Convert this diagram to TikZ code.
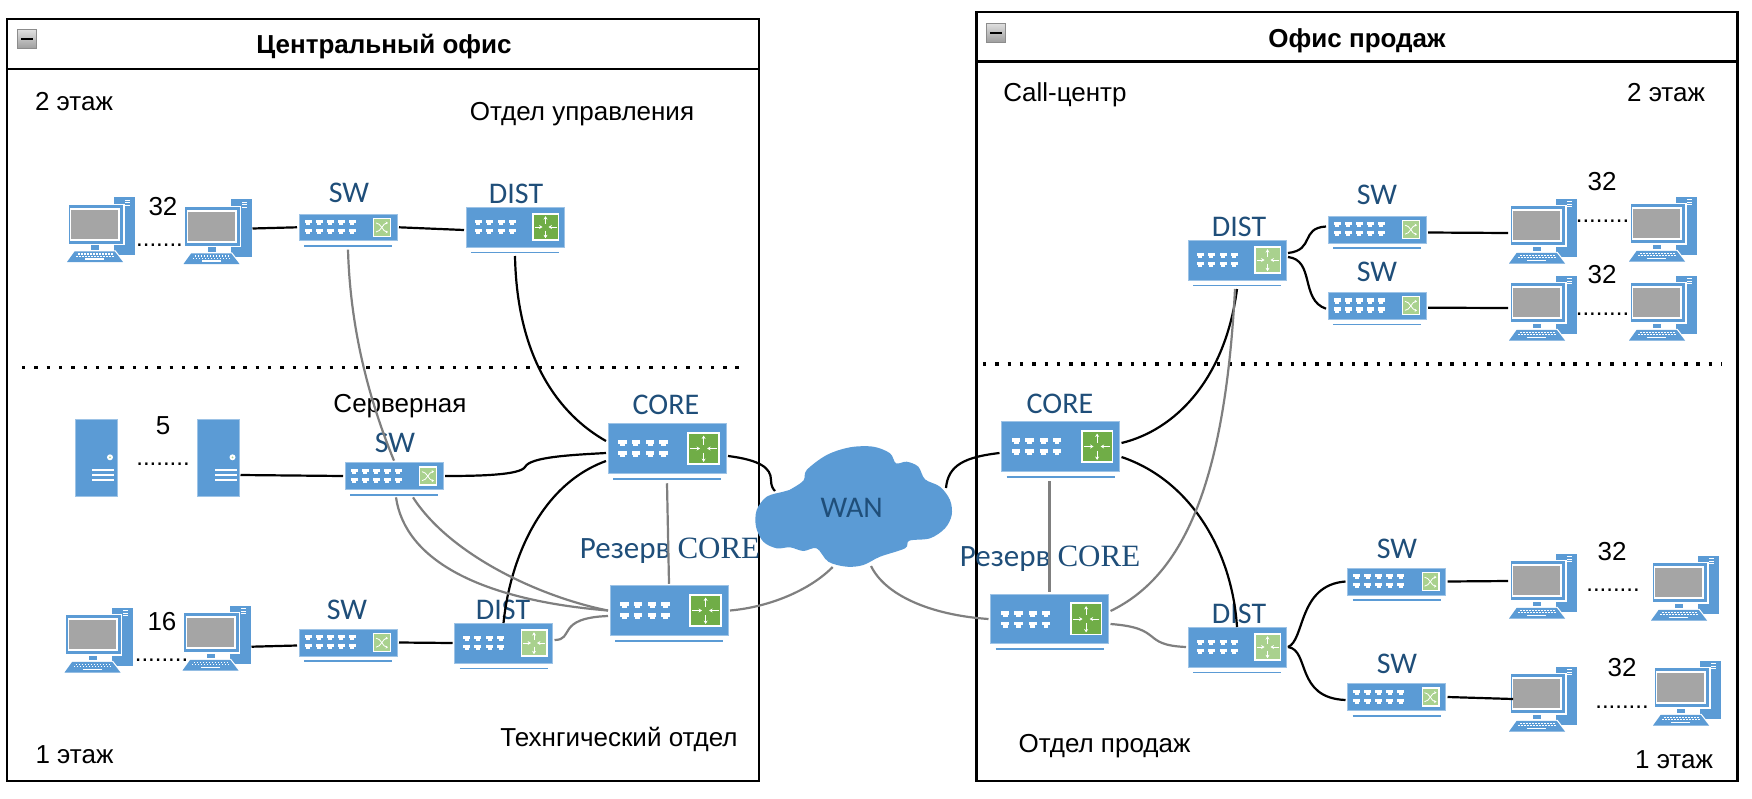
\documentclass[tikz,border=0pt]{standalone}
\usepackage{fontspec}
\setmainfont{Liberation Sans}
\newfontfamily\devfont{Carlito}
\newfontfamily\devserif{Liberation Serif}
\usetikzlibrary{arrows.meta,positioning,calc}
\definecolor{devblue}{RGB}{91,155,213}
\definecolor{devedge}{RGB}{157,195,230}
\definecolor{litegreen}{RGB}{169,209,142}
\definecolor{darkgreen}{RGB}{112,173,71}
\definecolor{textblue}{RGB}{31,78,121}
\definecolor{wiregray}{RGB}{127,127,127}
\definecolor{screengray}{RGB}{165,165,165}
\newcommand{\ethports}[3]{%
    \foreach \px in {#1}{%
        \foreach \py in {#2,#3}{%
            \fill[white] (\px-3.5,\py-2.6) rectangle (\px+3.5,\py+.6);
            \fill[white] (\px-2,\py+.6) rectangle (\px+2,\py+2.6);
        }
    }%
}
\tikzset{
    pics/swicon/.style={code={
        \begin{scope}[shift={(-49,-13.35)}]
            \ethports{9,20,31,42,53}{8.7}{17.7}
            \fill[white] (74,3.8) rectangle (92,23);
            \fill[litegreen] (75.3,5.1) rectangle (90.7,21.7);
            \draw[white,line width=.8pt,-{Stealth[length=2.4pt,width=3pt]}] (77,9) .. controls (82,9) and (84,18) .. (89,18);
            \draw[white,line width=.8pt,-{Stealth[length=2.4pt,width=3pt]}] (77,18) .. controls (82,18) and (84,9) .. (89,9);
        \end{scope}
    }},
    pics/routericon/.style={code={
        \begin{scope}[shift={(-49,-20.3)}]
            \ethports{12,23,35,46}{16}{25}
            \fill[white] (66,6.5) rectangle (93,34);
            \fill[#1] (67.5,8) rectangle (91.5,32.5);
            \begin{scope}[white,line width=.9pt,-{Stealth[length=3.4pt,width=4pt]}]
                \draw (79.5,17) -- (79.5,9.5);
                \draw (79.5,24) -- (79.5,31.5);
                \draw (68.5,20.3) -- (76.5,20.3);
                \draw (90.5,20.3) -- (82.5,20.3);
            \end{scope}
        \end{scope}
    }},
    pics/pcicon/.style={code={
        \begin{scope}[shift={(-34,-32.5)}]
            \fill[devblue] (47,0) rectangle (68,58);
            \fill[white] (58,2.8) rectangle (63,3.9);
            \fill[white] (58,5.3) rectangle (63,6.4);
            \fill[white] (58,7.8) rectangle (63,8.9);
            \fill[white] (0.6,6.7) rectangle (57.5,48);
            \fill[devblue] (1.7,7.7) rectangle (56,46.7);
            \fill[white] (3,10.5) rectangle (53,43.5);
            \fill[screengray] (4.3,12.7) rectangle (51,41.7);
            \fill[devblue] (24.3,48) rectangle (32,52.7);
            \fill[white] (7,53.4) -- (48.5,53.4) -- (57.5,65) -- (-1,65) -- cycle;
            \fill[devblue] (7.7,54.3) -- (47.7,54.3) -- (56,65) -- (0,65) -- cycle;
            \foreach \kx in {11,14,...,44}{\fill[white] (\kx,56.3) rectangle (\kx+1.8,57.5);}
            \foreach \kx in {9,12,...,46}{\fill[white] (\kx,58.6) rectangle (\kx+1.8,59.8);}
            \fill[white] (18,61.4) rectangle (37,62.8);
        \end{scope}
    }},
    pics/srvicon/.style={code={
        \begin{scope}[shift={(-21,-38.5)}]
            \fill[white] (35,38.3) circle (3);
            \fill[litegreen] (35,38.3) circle (1);
            \foreach \ly in {50.7,56,61}{\fill[white] (17,\ly-.8) rectangle (39,\ly+.8);}
        \end{scope}
    }},
    devbody/.style={rectangle, fill=devblue, draw=devedge, line width=.7pt,
                    inner sep=0pt, outer sep=2pt,
                    append after command={
                        ([xshift=7pt,yshift=-3.5pt]\tikzlastnode.south west) edge[underbar]
                        ([xshift=-7pt,yshift=-3.5pt]\tikzlastnode.south east)}},
    underbar/.style={draw=devblue, line width=1.8pt},
    swbox/.style={devbody, minimum width=98pt, minimum height=26.7pt},
    distbox/.style={devbody, minimum width=98pt, minimum height=40pt},
    corebox/.style={devbody, minimum width=118pt, minimum height=49.5pt},
    pcbox/.style={rectangle, inner sep=0pt, outer sep=1pt,
                  minimum width=68pt, minimum height=65pt},
    srvbox/.style={rectangle, fill=devblue, draw=devedge, line width=.5pt,
                   inner sep=0pt, outer sep=1pt,
                   minimum width=42pt, minimum height=77pt},
    officebox/.style={rectangle, draw=black, line width=2.1pt, inner sep=0pt},
    foldbox/.style={rectangle, draw=black!45, line width=.8pt, inner sep=0pt,
                    minimum size=19pt, top color=black!12, bottom color=black!38,
                    path picture={\fill[black] (-6,-1) rectangle (6,1);}},
    devlabel/.style={inner sep=0pt, text=textblue,
                     font=\devfont\fontsize{30}{32}\selectfont},
    reslabel/.style={devlabel, font=\devfont\fontsize{31}{33}\selectfont},
    txtlabel/.style={inner sep=0pt, text=black,
                     font=\fontsize{26}{29}\selectfont},
    titlelabel/.style={inner sep=0pt, text=black,
                       font=\bfseries\fontsize{26}{29}\selectfont},
    dotrow/.style={inner sep=0pt, anchor=base, text=black,
                   font=\fontsize{24}{26}\selectfont},
    floorline/.style={line width=3.4pt, dash pattern=on 3.4pt off 8.9pt},
    wire/.style={line width=2.2pt, black},
    sparewire/.style={line width=2.2pt, wiregray},
}
\begin{document}
\begin{tikzpicture}[x=1pt, y=-1pt]
    \useasboundingbox (0,0) rectangle (1752,798);
    \node[officebox, minimum width=752pt, minimum height=762pt] (officeA) at (383,400) {};
    \node[officebox, minimum width=761pt, minimum height=769pt] (officeB) at (1357,396.5) {};
    \draw[line width=2.1pt] (officeA.west |- 0,69) -- (officeA.east |- 0,69);
    \draw[line width=2.1pt] (officeB.west |- 0,61.5) -- (officeB.east |- 0,61.5);
    \node[foldbox] (foldA) at (27,39) {};
    \node[foldbox] (foldB) at (996,32.5) {};
    \node[titlelabel] (titleA) at (384,47) {Центральный офис};
    \node[titlelabel] (titleB) at (1357,40.5) {Офис продаж};
    \draw[floorline] (22,367.6) -- (743,367.6);
    \draw[floorline] (983,364) -- (1722,364);

    \node[txtlabel] (floorA2) at (74,102) {2 этаж};
    \node[txtlabel] (floorA1) at (74.5,755) {1 этаж};
    \node[txtlabel] (floorB2) at (1666,93) {2 этаж};
    \node[txtlabel] (floorB1) at (1674,760) {1 этаж};
    \node[txtlabel] (deptMgmt) at (582,114) {Отдел управления};
    \node[txtlabel] (deptServ) at (400,406) {Серверная};
    \node[txtlabel] (deptTech) at (619,739) {Технгический отдел};
    \node[txtlabel] (deptCall) at (1065,95) {Call-центр};
    \node[txtlabel] (deptSales) at (1104.5,746) {Отдел продаж};

    \node[pcbox] (pcA1) at (101,229.5) {};
    \node[pcbox] (pcA2) at (217.5,231.5) {};
    \node[pcbox] (pcB1) at (98.5,640) {};
    \node[pcbox] (pcB2) at (216.5,638) {};
    \node[pcbox] (pcD1) at (1543,231) {};
    \node[pcbox] (pcD2) at (1663,229) {};
    \node[pcbox] (pcE1) at (1543,308) {};
    \node[pcbox] (pcE2) at (1663,308) {};
    \node[pcbox] (pcF1) at (1543,586) {};
    \node[pcbox] (pcF2) at (1685,588) {};
    \node[pcbox] (pcG1) at (1543,699) {};
    \node[pcbox] (pcG2) at (1687,693) {};
    \node[srvbox] (srvA) at (96,457.5) {};
    \node[srvbox] (srvB) at (218.5,457.5) {};
    \foreach \pcname in {pcA1,pcA2,pcB1,pcB2,pcD1,pcD2,pcE1,pcE2,pcF1,pcF2,pcG1,pcG2}
        \pic at (\pcname) {pcicon};
    \foreach \srvname in {srvA,srvB}
        \pic at (\srvname) {srvicon};

    \node[txtlabel] (countA) at (163,207) {32};
    \node[txtlabel] (countS) at (163,426) {5};
    \node[txtlabel] (countB) at (162,622) {16};
    \node[txtlabel] (countD) at (1602,182) {32};
    \node[txtlabel] (countE) at (1602,275) {32};
    \node[txtlabel] (countF) at (1612,552) {32};
    \node[txtlabel] (countG) at (1622,668) {32};
    \node[dotrow] (dotsA) at (159.5,246) {.......};
    \node[dotrow] (dotsS) at (163,465.5) {........};
    \node[dotrow] (dotsB) at (161.5,661) {........};
    \node[dotrow] (dotsD) at (1602.5,222) {........};
    \node[dotrow] (dotsE) at (1602.5,315.5) {........};
    \node[dotrow] (dotsF) at (1613,591.5) {........};
    \node[dotrow] (dotsG) at (1622,708) {........};

    \node[swbox] (swA) at (348,227.3) {};
    \node[distbox] (distA) at (515,227) {};
    \node[swbox] (swB) at (394,476) {};
    \node[corebox] (coreA) at (667,448.5) {};
    \node[corebox] (resA) at (669,610.5) {};
    \node[swbox] (swC) at (348,642.5) {};
    \node[distbox] (distB) at (503.5,643) {};
    \node[corebox] (coreB) at (1060.5,446.5) {};
    \node[corebox] (resB) at (1049.5,619) {};
    \node[distbox] (distC) at (1237,260) {};
    \node[distbox] (distD) at (1237,647) {};
    \node[swbox] (swD) at (1377,229.5) {};
    \node[swbox] (swE) at (1377,305.7) {};
    \node[swbox] (swF) at (1396.5,581.5) {};
    \node[swbox] (swG) at (1396.5,697) {};
    \foreach \swname in {swA,swB,swC,swD,swE,swF,swG}
        \pic at (\swname) {swicon};
    \foreach \distname/\distgreen in {distA/darkgreen,distB/litegreen,distC/litegreen,distD/litegreen}
        \pic at (\distname) {routericon=\distgreen};
    \foreach \corename in {coreA,resA,coreB,resB}
        \pic[scale=1.2] at (\corename) {routericon=darkgreen};

    \node[devlabel] (swAlabel) at (349,193) {SW};
    \node[devlabel] (distAlabel) at (516,194) {DIST};
    \node[devlabel] (swBlabel) at (395,443) {SW};
    \node[devlabel] (coreAlabel) at (666,405) {CORE};
    \node[reslabel] (resAlabel) at (670,551) {Резерв {\devserif CORE}};
    \node[devlabel] (swClabel) at (347,610) {SW};
    \node[devlabel] (distBlabel) at (503,610) {DIST};
    \node[devlabel] (coreBlabel) at (1060,404) {CORE};
    \node[reslabel] (resBlabel) at (1050,559) {Резерв {\devserif CORE}};
    \node[devlabel] (distClabel) at (1239,227) {DIST};
    \node[devlabel] (distDlabel) at (1239,614) {DIST};
    \node[devlabel] (swDlabel) at (1377,195) {SW};
    \node[devlabel] (swElabel) at (1377,272) {SW};
    \node[devlabel] (swFlabel) at (1397,549) {SW};
    \node[devlabel] (swGlabel) at (1397,664) {SW};

    \fill[devblue] plot[smooth cycle, tension=.55] coordinates {
        (783.3,491.7) (789.3,490) (803.3,480.7) (806.7,470) (826.7,455) (850,447.3)
        (873.3,446.7) (890,453.3) (896,463.3) (906.7,461.7) (918.3,466.7) (925,479.3)
        (940,486.7) (950,500) (951.7,515) (945,528.3) (930,538.3) (909.3,540.7)
        (905,548.3) (880,556.7) (863.3,565) (846.7,566.7) (828.3,561.7) (816.7,548.3)
        (803.3,551) (790,547.3) (776.7,548.3) (763.3,541.7) (756,526.7) (756.7,510)
        (766.7,496.7)};
    \node[devlabel] (wan) at (851.7,508) {WAN};
    \coordinate (wanNW) at (775,491);
    \coordinate (wanNE) at (946,488);
    \coordinate (wanSW) at (832.7,567);
    \coordinate (wanSE) at (871,566);

    \draw[wire] ([yshift=3pt]pcA2.east) -- (swA.west);
    \draw[wire] (swA.east) -- ([yshift=-3pt]distA.west);
    \draw[wire] ([yshift=-7pt]distA.south) .. controls (517,360) and (560,415) .. ([yshift=7.5pt]coreA.west);
    \draw[wire] ([yshift=-17.5pt]srvB.east) -- (swB.west);
    \draw[wire] (swB.east) .. controls (480,476) and (520,475) .. (525,467)
        .. controls (530,457) and (570,455) .. ([yshift=-4.5pt]coreA.west);
    \draw[wire] ([yshift=-12.5pt]coreA.west) .. controls (540,485) and (510,560) .. ([yshift=-2pt]distB.north);
    \draw[wire] ([yshift=-7.5pt]coreA.east) .. controls (760,460) and (771,468) .. (771,480)
        .. controls (771,486) and (773,489) .. (wanNW);
    \draw[wire] (wanNE) .. controls (948,465) and (965,457) .. ([yshift=-6.5pt]coreB.west);
    \draw[wire] ([yshift=3.5pt]coreB.east) .. controls (1175,430) and (1225,380) .. ([yshift=-7pt]distC.south);
    \draw[wire] ([yshift=-10.5pt]coreB.east) .. controls (1190,480) and (1232,550) .. ([yshift=-2pt]distD.north);
    \draw[wire] ([yshift=7pt]distC.east) .. controls (1315,250) and (1300,228) .. ([yshift=3pt]swD.west);
    \draw[wire] ([yshift=3pt]distC.east) .. controls (1315,260) and (1300,300) .. ([yshift=-3pt]swE.west);
    \draw[wire] ([yshift=-3pt]swD.east) -- ([yshift=-2pt]pcD1.west);
    \draw[wire] ([yshift=-2pt]swE.east) -- (pcE1.west);
    \draw[wire] (distD.east) .. controls (1305,640) and (1298,585) .. (swF.west);
    \draw[wire] (distD.east) .. controls (1310,650) and (1295,698) .. ([yshift=-3pt]swG.west);
    \draw[wire] (swF.east) -- ([yshift=5pt]pcF1.west);
    \draw[wire] (swG.east) -- ([xshift=5pt]pcG1.west);
    \draw[wire] ([yshift=-8.7pt]pcB2.east) -- ([yshift=-3pt]swC.west);
    \draw[wire] (swC.east) -- (distB.west);

    \draw[sparewire] ([yshift=-7pt]swA.south) .. controls (350,320) and (365,390) .. (swB.north);
    \draw[sparewire] ([xshift=2pt,yshift=-6pt]swB.south) .. controls (405,560) and (480,600) .. (resA.west);
    \draw[sparewire] ([xshift=19pt,yshift=-6pt]swB.south) .. controls (450,555) and (540,597) .. (resA.west);
    \draw[sparewire] ([yshift=-8pt]coreA.south) -- (resA.north);
    \draw[sparewire] ([yshift=3pt]distB.east) .. controls (575,640) and (555,618) .. ([yshift=-5.5pt]resA.west);
    \draw[sparewire] (resA.east) .. controls (770,607) and (810,590) .. (wanSW);
    \draw[sparewire] (wanSE) .. controls (885,595) and (930,615) .. (resB.west);
    \draw[sparewire] ([xshift=-11pt,yshift=-8pt]coreB.south) -- (resB.north);
    \draw[sparewire] ([yshift=8pt]resB.east) .. controls (1185,575) and (1225,480) .. ([xshift=-2pt,yshift=-7pt]distC.south);
    \draw[sparewire] ([yshift=-5pt]resB.east) .. controls (1165,628) and (1140,645) .. (distD.west);
\end{tikzpicture}
\end{document}
